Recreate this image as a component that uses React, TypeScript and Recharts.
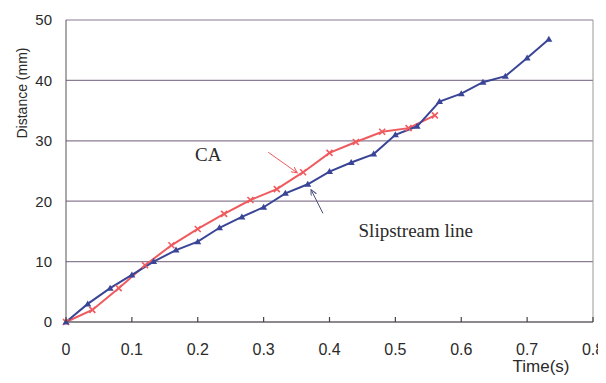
import React from 'react';
import { LineChart, Line, XAxis, YAxis, CartesianGrid, ReferenceLine, ReferenceDot } from 'recharts';

// Slipstream line: sampled every 1/30 s
const slipTimes = [0, 0.033, 0.067, 0.1, 0.133, 0.167, 0.2, 0.233, 0.267, 0.3, 0.333, 0.367, 0.4, 0.433, 0.467, 0.5, 0.533, 0.567, 0.6, 0.633, 0.667, 0.7, 0.733];
const slipDist = [0, 3.0, 5.6, 7.8, 10.0, 11.9, 13.3, 15.6, 17.4, 19.0, 21.3, 22.8, 24.9, 26.4, 27.8, 31.0, 32.4, 36.5, 37.8, 39.7, 40.7, 43.7, 46.8];

// CA: sampled every 0.04 s
const caTimes = [0, 0.04, 0.08, 0.12, 0.16, 0.2, 0.24, 0.28, 0.32, 0.36, 0.4, 0.44, 0.48, 0.52, 0.56];
const caDist = [0, 2.0, 5.6, 9.4, 12.7, 15.4, 17.9, 20.2, 22.0, 24.8, 28.0, 29.8, 31.5, 32.1, 34.2];

const xTicks = [0, 0.1, 0.2, 0.3, 0.4, 0.5, 0.6, 0.7, 0.8];
const yTicks = [0, 10, 20, 30, 40, 50];

const slipData = slipTimes.map((t, i) => ({ t, d: slipDist[i] }));
const caData = caTimes.map((t, i) => ({ t, d: caDist[i] }));

const BLUE = '#3a4596';
const RED = '#ef5a5e';
const INK = '#2a2a2a';
const sans = '"Liberation Sans", Arial, sans-serif';
const serif = '"Liberation Serif", "Times New Roman", serif';

const Triangle = (props: any) => {
  const { cx, cy } = props;
  if (cx == null || cy == null) return null;
  return <polygon points={`${cx},${cy - 3.5} ${cx - 3.5},${cy + 2.5} ${cx + 3.5},${cy + 2.5}`} fill={BLUE} />;
};

const Cross = (props: any) => {
  const { cx, cy } = props;
  if (cx == null || cy == null) return null;
  return (
    <g stroke={RED} strokeWidth={1.6}>
      <line x1={cx - 3} y1={cy - 3} x2={cx + 3} y2={cy + 3} />
      <line x1={cx - 3} y1={cy + 3} x2={cx + 3} y2={cy - 3} />
    </g>
  );
};

// plot bottom in chart coords (chart fills the page, so same as page)
const PLOT_BOTTOM = 322;

const XTick = (props: any) => {
  const { x, payload } = props;
  return (
    <g>
      <line x1={x} y1={PLOT_BOTTOM} x2={x} y2={PLOT_BOTTOM - 5} stroke="#444" strokeWidth={1.2} />
      <text x={x} y={PLOT_BOTTOM + 33} textAnchor="middle" fill={INK} fontSize={16} fontFamily={sans}>
        {String(payload.value)}
      </text>
    </g>
  );
};

const arrowShape = (color: string, id: string) => (props: any) => {
  const { x1, y1, x2, y2 } = props;
  if (x1 == null) return null;
  return (
    <g>
      <defs>
        <marker id={id} markerWidth="8" markerHeight="8" refX="6" refY="3" orient="auto" markerUnits="userSpaceOnUse">
          <path d="M0,0 L6,3 L0,6" fill="none" stroke={color} strokeWidth={1} />
        </marker>
      </defs>
      <line x1={x1} y1={y1} x2={x2} y2={y2} stroke={color} strokeWidth={1} markerEnd={`url(#${id})`} />
    </g>
  );
};

const textLabel = (value: string) => (props: any) => {
  const { viewBox } = props;
  const cx = viewBox.x + (viewBox.width || 0) / 2;
  const cy = viewBox.y + (viewBox.height || 0) / 2;
  return (
    <text x={cx} y={cy} textAnchor="middle" dominantBaseline="central" fontSize={19} fontFamily={serif} fill={INK}>
      {value}
    </text>
  );
};

const xLabel = (props: any) => {
  const { viewBox } = props;
  return (
    <text x={viewBox.x + viewBox.width - 52} y={viewBox.y + 44} textAnchor="middle" dominantBaseline="central" fontSize={17} fontFamily={sans} fill={INK}>
      Time(s)
    </text>
  );
};

const yLabel = (props: any) => {
  const { viewBox } = props;
  const x = viewBox.x + 22;
  const y = viewBox.y + 73;
  return (
    <text x={x} y={y} transform={`rotate(-90 ${x} ${y})`} textAnchor="middle" dominantBaseline="central" fontSize={14} fontFamily={sans} fill={INK}>
      Distance (mm)
    </text>
  );
};

export default function App() {
  return (
    <div style={{ margin: -8, width: 606, height: 383, background: '#fff' }}>
      <LineChart width={606} height={383} margin={{ top: 20, right: 13, left: 0, bottom: 0 }}>
        <CartesianGrid vertical={false} stroke="#8a7d94" strokeWidth={1.2} />
        <ReferenceLine x={0.8} stroke="#999" />
        <XAxis
          dataKey="t"
          type="number"
          domain={[0, 0.8]}
          ticks={xTicks}
          height={61}
          axisLine={{ stroke: '#555' }}
          tickLine={false}
          tick={<XTick />}
          interval={0}
          allowDuplicatedCategory={false}
          label={xLabel}
        />
        <YAxis
          type="number"
          domain={[0, 50]}
          ticks={yTicks}
          width={66}
          axisLine={{ stroke: '#555' }}
          tickLine={false}
          tickMargin={8}
          tick={{ fill: INK, fontSize: 15, fontFamily: sans }}
          label={yLabel}
        />
        <Line
          data={caData}
          dataKey="d"
          stroke={RED}
          strokeWidth={2}
          dot={<Cross />}
          isAnimationActive={false}
        />
        <Line
          data={slipData}
          dataKey="d"
          stroke={BLUE}
          strokeWidth={2}
          dot={<Triangle />}
          isAnimationActive={false}
        />
        <ReferenceLine
          segment={[{ x: 0.307, y: 28.1 }, { x: 0.351, y: 24.7 }]}
          shape={arrowShape(RED, 'arrRed')}
        />
        <ReferenceLine
          segment={[{ x: 0.39, y: 18.0 }, { x: 0.372, y: 21.9 }]}
          shape={arrowShape('#4a4f7a', 'arrBlue')}
        />
        <ReferenceDot x={0.216} y={27.8} r={0} fill="none" stroke="none" label={textLabel('CA')} />
        <ReferenceDot x={0.531} y={15.2} r={0} fill="none" stroke="none" label={textLabel('Slipstream line')} />
      </LineChart>
    </div>
  );
}
